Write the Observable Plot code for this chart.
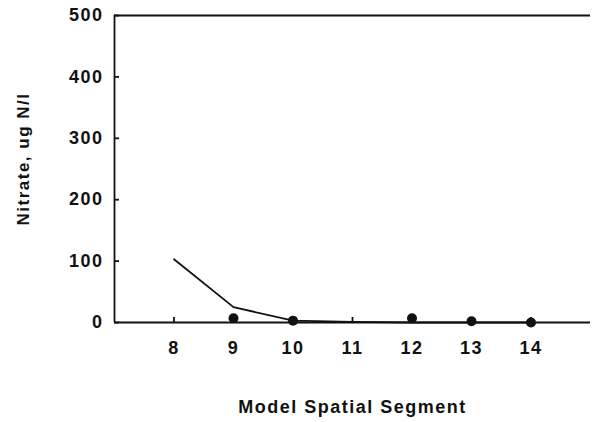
<!DOCTYPE html>
<html>
<head>
<meta charset="utf-8">
<script src="https://cdn.jsdelivr.net/npm/d3@7"></script>
<script src="https://cdn.jsdelivr.net/npm/@observablehq/plot@0.6"></script>
<style>
  html, body { margin: 0; padding: 0; background: #fff; }
  svg { font-family: "Liberation Sans", Arial, sans-serif; font-weight: bold; }
</style>
</head>
<body>
<div id="chart"></div>
<script>
const segments = [8, 9, 10, 11, 12, 13, 14];
const modelValues = [103, 25, 3, 1, 0, 0, 0];
const obsSegments = [9, 10, 12, 13, 14];
const obsValues = [7, 3, 7, 2, 0];
const yTicks = [0, 100, 200, 300, 400, 500];
const yLabel = "Nitrate, ug N/l";
const xLabel = "Model Spatial Segment";

const model = segments.map((s, i) => ({segment: s, value: modelValues[i]}));
const obs = obsSegments.map((s, i) => ({segment: s, value: obsValues[i]}));

const chart = Plot.plot({
  width: 600,
  height: 422,
  marginLeft: 114,
  marginRight: 10,
  marginTop: 15,
  marginBottom: 100,
  style: {fontSize: "18px", fontWeight: "bold", letterSpacing: "1.5px", color: "#111"},
  x: {domain: [7, 15]},
  y: {domain: [0, 500]},
  marks: [
    Plot.axisY(yTicks, {tickSize: -5, tickPadding: 16, strokeWidth: 1.8, fontSize: 18, label: null}),
    Plot.axisX(segments, {tickSize: -5, tickPadding: 24, strokeWidth: 1.8, fontSize: 18, label: xLabel, labelAnchor: "center", labelOffset: 90, labelArrow: "none", tickFormat: d => String(d)}),
    Plot.text([yLabel], {frameAnchor: "left", textAnchor: "middle", rotate: -90, dx: -91, dy: -10, fill: "#111", fontSize: 17, fontWeight: "bold"}),
    Plot.ruleY([0, 500], {stroke: "#111", strokeWidth: 1.8}),
    Plot.ruleX([7], {stroke: "#111", strokeWidth: 1.8}),
    Plot.line(model, {x: "segment", y: "value", stroke: "#111", strokeWidth: 1.8}),
    Plot.dot(obs, {x: "segment", y: "value", fill: "#111", r: 5})
  ]
});
document.getElementById("chart").appendChild(chart);
</script>
</body>
</html>
